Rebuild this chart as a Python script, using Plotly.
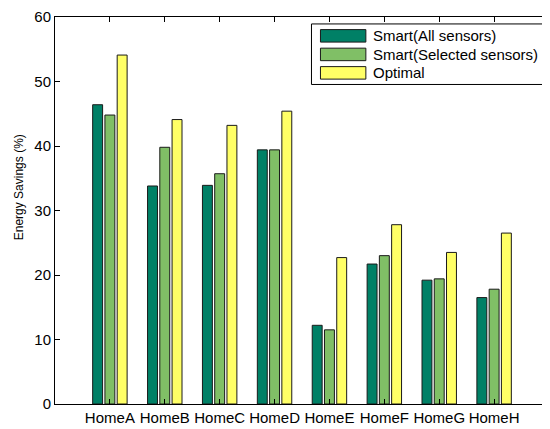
import plotly.graph_objects as go

categories = ["HomeA", "HomeB", "HomeC", "HomeD", "HomeE", "HomeF", "HomeG", "HomeH"]
smart_all = [46.4, 33.8, 33.9, 39.4, 12.2, 21.7, 19.2, 16.5]
smart_selected = [44.8, 39.8, 35.7, 39.4, 11.5, 23.0, 19.4, 17.8]
optimal = [54.1, 44.1, 43.2, 45.4, 22.7, 27.8, 23.5, 26.5]
series_names = ["Smart(All sensors)", "Smart(Selected sensors)", "Optimal"]
series_colors = ["#008066", "#80BF66", "#FFFF66"]
y_ticks = [0, 10, 20, 30, 40, 50, 60]
y_title = "Energy Savings (%)"

FONT = "Liberation Sans, Arial, Helvetica, sans-serif"
OFF = 8  # default body margin of the html page
W, H = 550 - OFF, 429 - OFF
ML, MR, MT, MB = 47, 0, 6, 25

xpos = list(range(1, len(categories) + 1))
fig = go.Figure()
for name, vals, col in zip(series_names, [smart_all, smart_selected, optimal], series_colors):
    fig.add_trace(go.Bar(
        x=xpos, y=vals, name=name,
        marker=dict(color=col, line=dict(color="#1a1a1a", width=1)),
        showlegend=False,
    ))

# manual MATLAB-style legend (decoration, in paper coordinates; page pixels in)
pw, ph = W - ML - MR, H - MT - MB
def px(x):
    return (x - OFF - ML) / pw
def py(y):
    return (H - MB - (y - OFF)) / ph

shapes = [dict(type="rect", xref="paper", yref="paper",
               x0=px(312), x1=px(549), y0=py(82), y1=py(21),
               line=dict(color="black", width=1), fillcolor="white", layer="above")]
annotations = []
row_c = [33, 51.7, 70.3]
for i, (name, col) in enumerate(zip(series_names, series_colors)):
    c = row_c[i]
    shapes.append(dict(type="rect", xref="paper", yref="paper",
                       x0=px(321), x1=px(366.5), y0=py(c + 6.3), y1=py(c - 6.3),
                       line=dict(color="#1a1a1a", width=1), fillcolor=col, layer="above"))
    annotations.append(dict(x=px(371.5), y=py(c), xref="paper", yref="paper",
                            text=name, showarrow=False, xanchor="left", yanchor="middle",
                            font=dict(family=FONT, size=15, color="black")))

annotations.append(dict(x=px(18.5), y=py(186), xref="paper", yref="paper",
                        text=y_title, showarrow=False, textangle=-90,
                        xanchor="center", yanchor="middle",
                        font=dict(family=FONT, size=12, color="black")))

fig.update_layout(
    width=W, height=H,
    margin=dict(l=ML, r=MR, t=MT, b=MB),
    paper_bgcolor="white", plot_bgcolor="white",
    barmode="group", bargap=0.33, bargroupgap=0.19,
    font=dict(family=FONT, size=15, color="black"),
    shapes=shapes, annotations=annotations,
    xaxis=dict(range=[0, 9], tickvals=xpos, ticktext=categories,
               showgrid=False, zeroline=False, showline=True, linecolor="black", linewidth=1,
               mirror="ticks", ticks="inside", ticklen=5, tickcolor="black",
               ticklabeloverflow="allow",
               tickfont=dict(family=FONT, size=15, color="black")),
    yaxis=dict(range=[0, 60], tickvals=y_ticks,
               showgrid=False, zeroline=False, showline=True, linecolor="black", linewidth=1,
               mirror="ticks", ticks="inside", ticklen=5, tickcolor="black",
               ticklabeloverflow="allow",
               tickfont=dict(family=FONT, size=15, color="black")),
)

fig.write_html("out.html")
